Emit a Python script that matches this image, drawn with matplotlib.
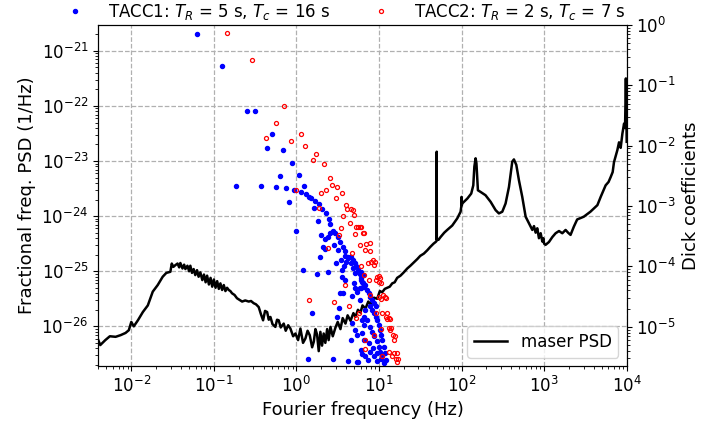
import numpy as np
import matplotlib
matplotlib.use('Agg')
import matplotlib.pyplot as plt
from matplotlib.lines import Line2D

# ---------------- data (log10 values) ----------------
maser_logf = [
    -2.40, -2.376, -2.315, -2.26, -2.19, -2.13, -2.07, -2.03, -2.00, -1.97,
    -1.92, -1.86, -1.80, -1.74, -1.68, -1.62, -1.576, -1.527, -1.51, -1.49,
    -1.467, -1.44, -1.42, -1.406, -1.38, -1.36, -1.345, -1.32, -1.30, -1.285,
    -1.265, -1.245, -1.225, -1.204, -1.185, -1.164, -1.14, -1.12, -1.10, -1.082,
    -1.06, -1.04, -1.02, -1.00, -0.98, -0.96, -0.94, -0.921, -0.90, -0.88,
    -0.86, -0.84, -0.82, -0.80, -0.78, -0.75, -0.72, -0.69, -0.658, -0.62,
    -0.578, -0.55, -0.518, -0.49, -0.457, -0.43, -0.404, -0.38, -0.355, -0.335,
    -0.315, -0.29, -0.255, -0.235, -0.215, -0.19, -0.154, -0.13, -0.10, -0.073,
    -0.04, -0.012, 0.02, 0.048, 0.08, 0.109, 0.135, 0.161, 0.19, 0.21,
    0.23, 0.25, 0.27, 0.29, 0.31, 0.33, 0.35, 0.372, 0.39, 0.412,
    0.44, 0.473, 0.50, 0.533, 0.56, 0.594, 0.62, 0.655, 0.69, 0.715,
    0.745, 0.776, 0.80, 0.836, 0.87, 0.897, 0.94, 0.978, 1.01, 1.039,
    1.07, 1.10, 1.13, 1.16, 1.19, 1.22, 1.26, 1.30, 1.342, 1.38,
    1.422, 1.463, 1.50, 1.543, 1.584, 1.62, 1.66, 1.685, 1.698, 1.699,
    1.700, 1.72, 1.745, 1.79, 1.826, 1.887, 1.948, 1.988, 1.997, 2.0,
    2.003, 2.008, 2.07, 2.117, 2.142, 2.155, 2.17, 2.18, 2.198, 2.23,
    2.29, 2.352, 2.412, 2.452, 2.493, 2.533, 2.574, 2.614, 2.634, 2.663,
    2.695, 2.735, 2.776, 2.816, 2.857, 2.877, 2.897, 2.917, 2.937, 2.958,
    2.978, 2.99, 3.0, 3.018, 3.058, 3.099, 3.139, 3.18, 3.22, 3.26,
    3.29, 3.32, 3.36, 3.40, 3.48, 3.56, 3.645, 3.685, 3.745, 3.78,
    3.806, 3.83, 3.846, 3.887, 3.907, 3.927, 3.948, 3.968, 3.98, 3.99,
    3.995, 4.0,
]
maser_logS = [
    -26.25, -26.34, -26.25, -26.18, -26.19, -26.16, -26.12, -26.07, -25.92, -26.00,
    -25.89, -25.74, -25.62, -25.37, -25.25, -25.10, -25.03, -25.01, -24.86, -24.92,
    -24.89, -24.86, -24.93, -24.85, -24.95, -24.88, -24.96, -24.90, -25.00, -24.90,
    -25.03, -24.96, -25.07, -24.98, -25.10, -25.02, -25.16, -25.06, -25.20, -25.08,
    -25.24, -25.12, -25.28, -25.15, -25.30, -25.18, -25.32, -25.22, -25.34, -25.25,
    -25.36, -25.30, -25.34, -25.36, -25.40, -25.43, -25.49, -25.52, -25.55, -25.53,
    -25.55, -25.54, -25.58, -25.60, -25.65, -25.78, -25.89, -25.72, -25.74, -25.88,
    -25.83, -25.96, -26.01, -25.88, -25.89, -26.02, -25.95, -26.08, -25.98, -26.04,
    -26.18, -26.13, -26.25, -26.04, -26.30, -26.22, -26.08, -26.16, -26.38, -26.28,
    -26.05, -26.15, -26.45, -26.10, -26.35, -26.13, -26.30, -26.05, -26.25, -26.01,
    -26.18, -26.02, -25.92, -26.05, -25.85, -25.95, -25.80, -25.90, -25.76, -25.83,
    -25.70, -25.75, -25.62, -25.68, -25.55, -25.60, -25.48, -25.50, -25.36, -25.38,
    -25.32, -25.30, -25.28, -25.22, -25.20, -25.12, -25.08, -25.02, -24.95, -24.90,
    -24.84, -24.78, -24.72, -24.68, -24.62, -24.56, -24.50, -24.47, -24.45, -22.83,
    -24.42, -24.43, -24.38, -24.30, -24.25, -24.17, -24.04, -23.92, -23.82, -23.65,
    -23.80, -23.77, -23.68, -23.59, -23.44, -23.10, -22.95, -23.04, -23.53, -23.56,
    -23.62, -23.74, -23.89, -23.95, -23.92, -23.77, -23.47, -23.01, -22.97, -23.07,
    -23.35, -23.65, -24.01, -24.13, -24.25, -24.18, -24.30, -24.22, -24.40, -24.31,
    -24.46, -24.40, -24.50, -24.52, -24.47, -24.38, -24.31, -24.27, -24.31, -24.25,
    -24.30, -24.34, -24.19, -24.06, -24.01, -23.92, -23.80, -23.65, -23.44, -23.38,
    -23.29, -23.20, -23.02, -22.80, -22.66, -22.76, -22.50, -22.32, -22.40, -21.50,
    -22.00, -22.65,
]

tacc1_logf = [
    -1.204, -0.903, -0.727, -0.602, -0.505, -0.426, -0.359, -0.301, -0.250, -0.204,
    -0.163, -0.125, -0.090, -0.058, -0.028, 0.000, 0.026, 0.051, 0.075, 0.097,
    0.118, 0.138, 0.158, 0.176, 0.194, 0.211, 0.227, 0.243, 0.258, 0.273,
    0.287, 0.301, 0.314, 0.324, 0.343, 0.343, 0.364, 0.384, 0.379, 0.392,
    0.412, 0.412, 0.440, 0.445, 0.452, 0.473, 0.481, 0.493, 0.505, 0.505,
    0.513, 0.533, 0.533, 0.545, 0.554, 0.554, 0.566, 0.570, 0.573, 0.585,
    0.594, 0.594, 0.602, 0.622, 0.627, 0.627, 0.655, 0.655, 0.655, 0.675,
    0.675, 0.682, 0.687, 0.695, 0.707, 0.715, 0.715, 0.715, 0.724, 0.736,
    0.736, 0.743, 0.748, 0.767, 0.767, 0.767, 0.776, 0.784, 0.796, 0.796,
    0.796, 0.804, 0.816, 0.821,
    0.788, 0.808, 0.788, 0.808, 0.836, 0.776, 0.857, 0.876, 0.897, 0.918,
    0.937, 0.958, 0.897, 0.918, 0.937, 0.958, 0.978, 0.998, 1.010, 1.027,
    1.039, 1.058, 1.067, 1.079, 0.836, 0.816, 0.857, 0.888, 0.918, 0.945,
    0.978, 0.998, 1.018, 1.039, 0.796, 0.816, 0.876, 0.930, 0.978, 1.027,
    1.058, 0.897, 0.937, 0.978, 0.836, 0.736, 0.864,
]
tacc1_logD = [
    -0.15, -0.68, -2.66, -1.43, -1.43, -2.67, -2.03, -1.80, -2.68, -2.50,
    -2.07, -2.70, -2.94, -2.29, -2.73, -3.42, -2.48, -2.77, -4.06, -2.66,
    -2.80, -5.53, -2.85, -2.86, -4.77, -3.04, -2.91, -4.13, -3.24, -2.97,
    -3.85, -3.48, -3.05, -3.67, -3.55, -3.71, -3.12, -3.51, -4.09, -3.21,
    -3.29, -3.45, -5.53, -3.42, -3.64, -3.45, -3.95, -4.83, -3.51, -3.73,
    -4.69, -3.59, -4.44, -3.89, -4.06, -4.17, -3.67, -4.44, -3.99, -3.82,
    -3.74, -4.23, -3.92, -5.56, -3.84, -3.86, -3.85, -3.94, -5.22, -4.49,
    -4.94, -3.89, -4.03, -4.28, -3.95, -4.11, -4.36, -5.05, -4.00, -4.43,
    -5.13, -5.59, -4.06, -4.12, -4.36, -4.55, -5.38, -4.19, -4.25, -4.88,
    -5.45, -4.27, -4.97, -4.34,
    -4.10, -4.14, -4.22, -4.28, -4.30, -4.36, -4.39, -4.44, -4.50, -4.55,
    -4.61, -4.66, -4.66, -4.72, -4.77, -4.83, -4.88, -4.97, -5.05, -5.13,
    -5.22, -5.33, -5.44, -5.55, -4.72, -4.83, -4.88, -5.00, -5.08, -5.16,
    -5.24, -5.33, -5.41, -5.49, -5.10, -5.22, -5.27, -5.35, -5.44, -5.53,
    -5.60, -5.41, -5.49, -5.57, -5.49, -5.58, -5.55,
]

tacc2_logf = [
    -0.845, -0.544, -0.368, -0.243, -0.146, -0.067, 0.000, 0.058, 0.109, 0.155,
    0.196, 0.234, 0.269, 0.301, 0.331, 0.359, 0.385, 0.410, 0.434, 0.456,
    0.477, 0.497, 0.517, 0.535, 0.553, 0.570, 0.586, 0.602, 0.617, 0.632,
    0.646, 0.660, 0.673, 0.686, 0.699, 0.711,
    0.719, 0.727, 0.743, 0.760, 0.764, 0.772, 0.784, 0.788, 0.808, 0.816,
    0.816, 0.828, 0.828, 0.845, 0.836, 0.864, 0.876, 0.885, 0.897, 0.897,
    0.905, 0.925, 0.937, 0.937, 0.949, 0.958, 0.958, 0.970, 0.998, 0.998,
    1.002, 1.018, 1.027, 1.027, 1.030, 1.039, 1.039, 1.051, 1.067, 1.079,
    1.079, 1.099, 1.099, 1.119, 1.119, 1.119, 1.131, 1.139, 1.148, 1.160,
    1.172, 1.179, 1.179, 1.192, 1.200, 1.212, 1.221, 1.228,
]
tacc2_logD = [
    -0.13, -0.58, -1.87, -1.63, -1.34, -1.92, -2.73, -1.80, -2.00, -4.55,
    -2.24, -2.13, -3.03, -2.79, -2.30, -2.73, -3.69, -2.54, -2.65, -4.59,
    -2.87, -2.68, -3.48, -3.36, -2.79, -3.16, -4.30, -2.99, -3.05, -4.66,
    -3.28, -3.05, -3.77, -3.06, -3.15, -3.46,
    -3.35, -4.86, -3.34, -4.77, -3.35, -3.64, -4.00, -3.34, -3.44, -3.45,
    -4.14, -3.73, -5.37, -3.63, -5.22, -3.95, -4.23, -3.61, -3.74, -4.47,
    -3.92, -3.89, -3.97, -5.13, -3.92, -4.23, -4.77, -4.18, -4.16, -4.51,
    -4.25, -4.20, -4.54, -5.04, -4.27, -4.77, -5.49, -4.47, -4.50, -4.53,
    -4.83, -4.77, -4.87, -4.86, -5.02, -5.41, -5.06, -4.87, -5.02, -5.49,
    -5.13, -5.22, -5.44, -5.16, -5.53, -5.44, -5.59, -5.53,
]

labels = {
    'tacc1': 'TACC1: $T_R$ = 5 s, $T_c$ = 16 s',
    'tacc2': 'TACC2: $T_R$ = 2 s, $T_c$ = 7 s',
    'maser': 'maser PSD',
}

assert len(maser_logf) == len(maser_logS)
assert len(tacc1_logf) == len(tacc1_logD)
assert len(tacc2_logf) == len(tacc2_logD)

# ---------------- figure ----------------
fig = plt.figure(figsize=(7.04, 4.25), dpi=100)
ax = fig.add_axes([0.1396, 0.1388, 0.7506, 0.8024])

ax.plot(10 ** np.array(maser_logf), 10 ** np.array(maser_logS),
        color='black', lw=1.8, zorder=3)
ax.set_xscale('log')
ax.set_yscale('log')
ax.set_xlim(10 ** -2.4, 1e4)
ax.set_ylim(10 ** -26.72, 10 ** -20.53)
ax.grid(True, which='major', linestyle='--', color='#b0b0b0', lw=0.9)
ax.set_axisbelow(True)
ax.set_xlabel('Fourier frequency (Hz)', fontsize=13)
ax.set_ylabel('Fractional freq. PSD (1/Hz)', fontsize=13)
ax.tick_params(axis='both', which='major', labelsize=12)

ax2 = ax.twinx()
ax2.set_yscale('log')
ax2.set_ylim(10 ** -5.65, 1)
ax2.plot(10 ** np.array(tacc1_logf), 10 ** np.array(tacc1_logD), 'o',
         color='blue', ms=2.9, ls='none')
ax2.plot(10 ** np.array(tacc2_logf), 10 ** np.array(tacc2_logD), 'o',
         mfc='none', mec='red', ms=2.9, mew=0.9, ls='none')
ax2.set_ylabel('Dick coefficients', fontsize=13)
ax2.tick_params(axis='y', which='major', labelsize=12)

h_maser = Line2D([], [], color='black', lw=1.8)
ax2.legend([h_maser], [labels['maser']], loc='lower right', fontsize=12)

h1 = Line2D([], [], marker='o', color='blue', ms=2.9, ls='none')
h2 = Line2D([], [], marker='o', mfc='none', mec='red', ms=2.9, mew=0.9, ls='none')
fig.legend([h1, h2], [labels['tacc1'], labels['tacc2']], loc='upper center',
           bbox_to_anchor=(0.486, 1.019), ncol=2, frameon=False, fontsize=12,
           columnspacing=2.0, handletextpad=1.0, numpoints=1, borderpad=0.1)

fig.savefig('out.png', dpi=100)
